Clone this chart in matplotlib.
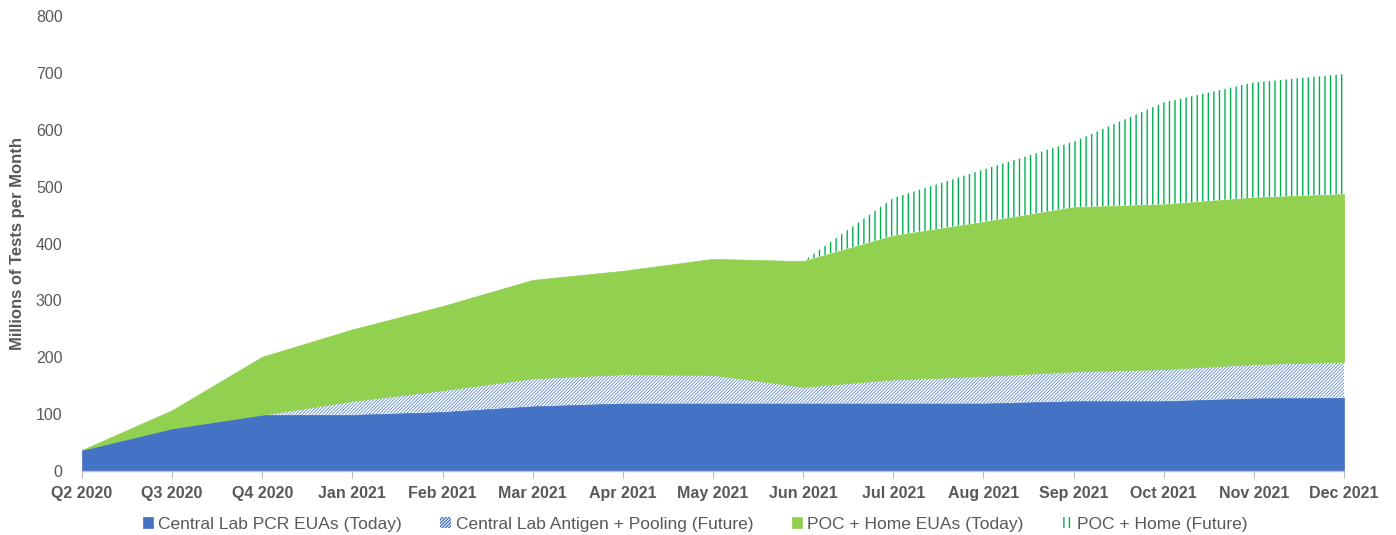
import matplotlib
matplotlib.use("Agg")
import matplotlib.pyplot as plt
import numpy as np

plt.rcParams['font.family'] = ['Liberation Sans', 'DejaVu Sans']

periods = ["Q2 2020", "Q3 2020", "Q4 2020", "Jan 2021", "Feb 2021", "Mar 2021", "Apr 2021",
           "May 2021", "Jun 2021", "Jul 2021", "Aug 2021", "Sep 2021", "Oct 2021", "Nov 2021", "Dec 2021"]
pcr_today = [37, 75, 99, 99, 104, 114, 119, 119, 119, 119, 119, 123, 123, 128, 129]
antigen_pooling = [0, 0, 0, 24, 38, 49, 51, 50, 29, 42, 48, 52, 56, 60, 63]
poc_home_today = [0, 32, 102, 126, 148, 173, 182, 204, 221, 253, 271, 289, 290, 293, 295]
poc_home_future = [0, 0, 0, 0, 0, 0, 0, 0, 0, 66, 92, 115, 179, 202, 211]
yticks = [0, 100, 200, 300, 400, 500, 600, 700, 800]

x = np.arange(len(periods))
s1 = np.array(pcr_today, dtype=float)
s2 = s1 + np.array(antigen_pooling)
s3 = s2 + np.array(poc_home_today)
s4 = s3 + np.array(poc_home_future)

fig = plt.figure(figsize=(13.96, 5.35), dpi=100)
ax = fig.add_axes([82/1396, 64/535, (1344-82)/1396, (471-16)/535])

blue = "#4472C4"
green = "#92D050"
fgreen = "#00B050"

ax.fill_between(x, 0, s1, facecolor=blue, edgecolor=blue, linewidth=0.5, label="Central Lab PCR EUAs (Today)")
plt.rcParams['hatch.linewidth'] = 0.5
ax.fill_between(x, s1, s2, facecolor="white", edgecolor=blue, hatch="//////////", linewidth=0,
                label="Central Lab Antigen + Pooling (Future)")
ax.fill_between(x, s2, s3, facecolor=green, edgecolor=green, linewidth=0.5, label="POC + Home EUAs (Today)")
plt.rcParams['hatch.linewidth'] = 1.0
mask = x >= 8
ax.fill_between(x[mask], s3[mask], s4[mask], facecolor="white", edgecolor=fgreen, hatch="|||",
                linewidth=0, label="POC + Home (Future)")

ax.set_xlim(0, len(periods) - 1)
ax.set_ylim(0, 800)
ax.set_xticks(x)
ax.set_xticklabels(periods, fontsize=11.5, fontweight="bold", color="#595959")
ax.set_yticks(yticks)
ax.set_yticklabels([str(v) for v in yticks], fontsize=11.5, color="#595959")
ax.tick_params(axis="y", length=0, pad=14)
ax.tick_params(axis="x", length=5, color="#BFBFBF", pad=6)
for side in ["top", "right", "left"]:
    ax.spines[side].set_visible(False)
ax.spines["bottom"].set_color("#BFBFBF")
ax.spines["bottom"].set_linewidth(1.0)
ax.set_ylabel("Millions of Tests per Month", fontsize=12, fontweight="bold", color="#595959", labelpad=8)

leg = ax.legend(loc="center", bbox_to_anchor=(0.486, (471 - 524) / 455), ncol=4, frameon=False,
                fontsize=12.5, handlelength=0.6, handleheight=0.6, handletextpad=0.3,
                columnspacing=2.2, labelcolor="#595959", borderpad=0)

fig.savefig("out.png", dpi=100)
